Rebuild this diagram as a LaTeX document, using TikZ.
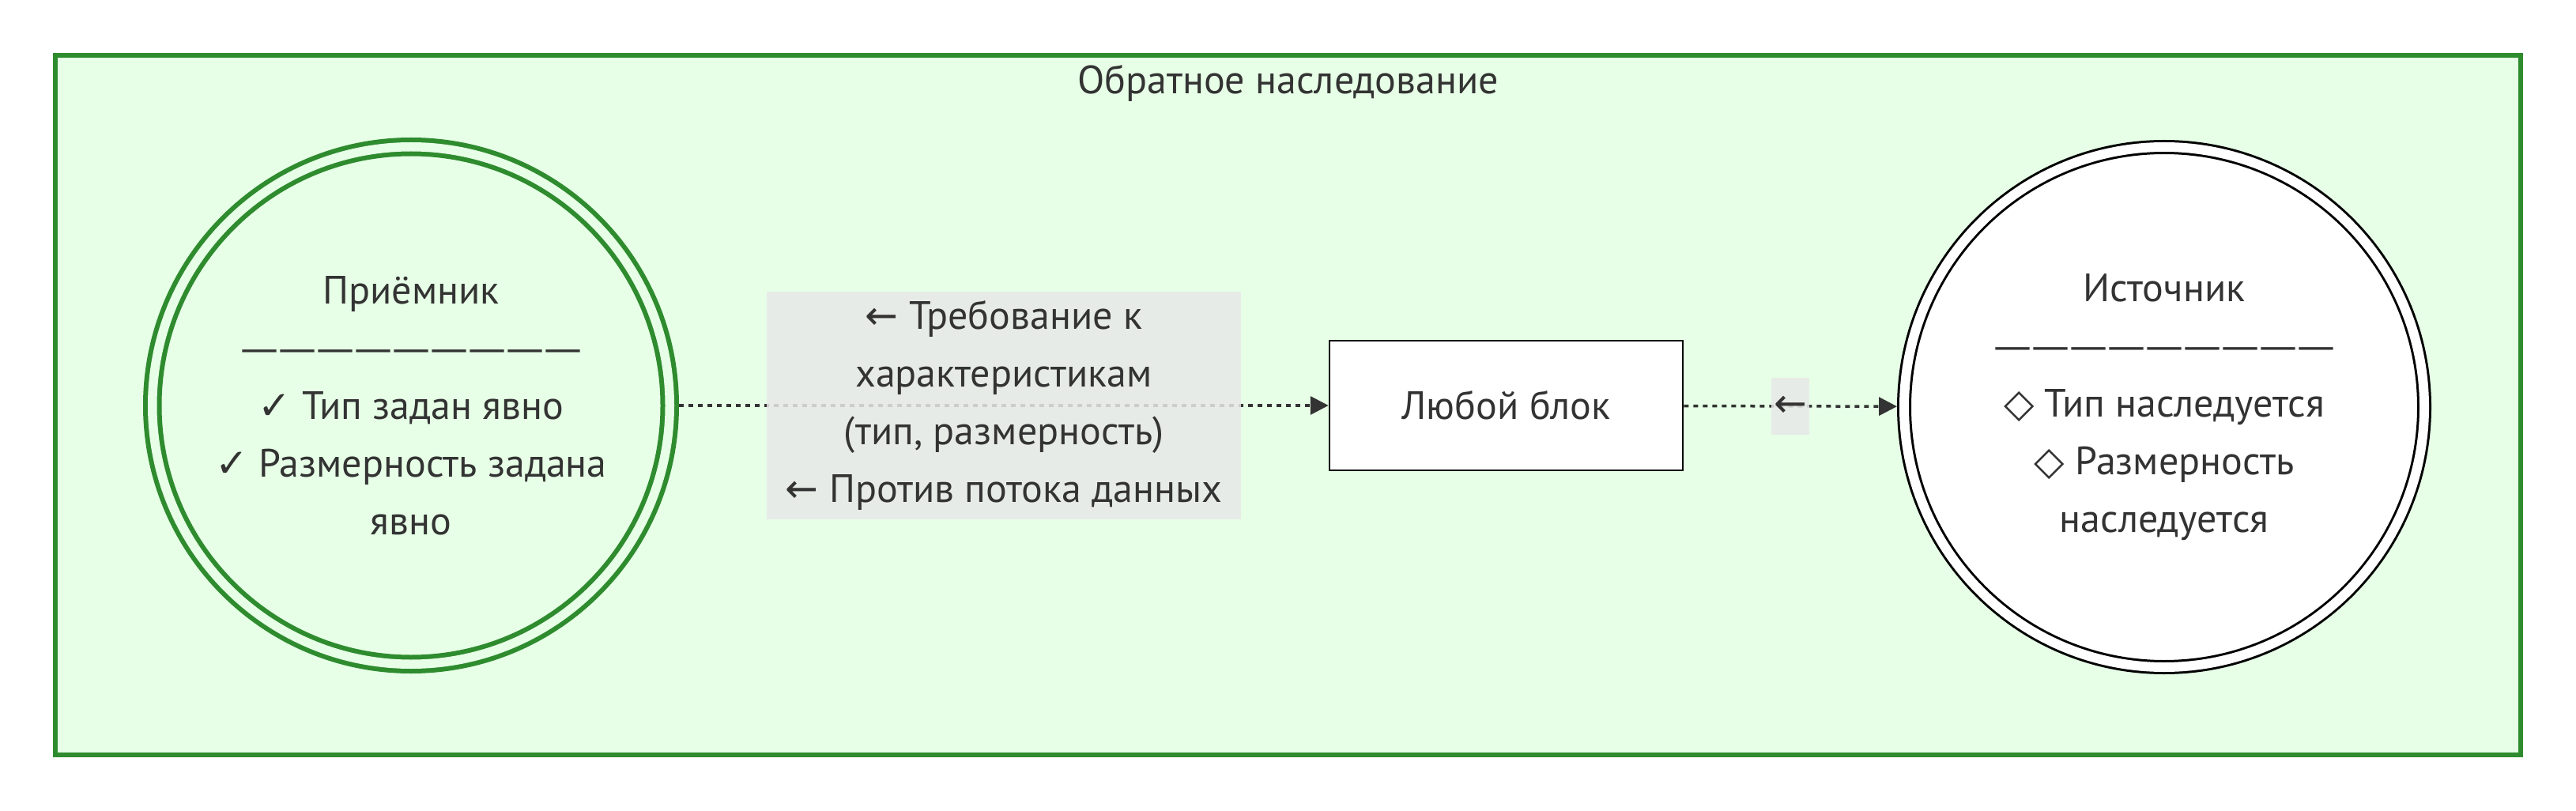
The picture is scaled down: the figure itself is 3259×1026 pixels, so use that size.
\documentclass[tikz,border=0pt]{standalone}
\usepackage{fontspec}
\setmainfont{PT Sans}
\newfontfamily\symf{DejaVu Sans}
\usetikzlibrary{arrows.meta}
\definecolor{frameGreen}{RGB}{46,139,46}
\definecolor{frameFill}{RGB}{230,255,230}
\definecolor{ink}{RGB}{51,51,51}
\definecolor{lblFill}{RGB}{232,232,232}
\newcommand{\sepline}{{\symf\fontsize{24pt}{36.5pt}\selectfont —————————}}
\newcommand{\chk}{{\symf ✓}}
\newcommand{\dmd}{{\symf ◇}}
\newcommand{\lar}{{\symf ←}}
\begin{document}
\begin{tikzpicture}
    [
    x=0.5pt, y=-0.5pt,
    every node/.style={text=ink,font=\fontsize{25pt}{36.5pt}\selectfont,inner sep=0pt},
    sink/.style={circle,draw=frameGreen,line width=3pt,double=frameFill,double distance=5.75pt,fill=frameFill,minimum size=327.25pt,outer sep=5.875pt,align=center},
    source/.style={circle,draw=black,line width=1.5pt,double=white,double distance=6pt,fill=white,minimum size=329pt,outer sep=4.5pt,align=center},
    block/.style={rectangle,draw=black,line width=1.25pt,fill=white,minimum width=223.5pt,minimum height=82pt},
    lbl/.style={rectangle,fill=lblFill,fill opacity=0.85,text opacity=1,align=center},
    flow/.style={draw=ink,line width=1.75pt,dash pattern=on 3pt off 3pt,-{Triangle[length=11.5pt,width=11.5pt]}},
    ]
    \useasboundingbox (0,0) rectangle (3259,1026);
    \draw[frameGreen,line width=3pt,fill=frameFill] (70,70) rectangle (3189,955);
    \node (ttl) at (1629.5,105) {Обратное наследование};
    \node[sink] (rcv) at (520,513) {Приёмник\\\sepline\\\chk\ Тип задан явно\\\chk\ Размерность задана\\явно};
    \node[block] (blk) at (1905.5,513) {Любой блок};
    \node[source] (src) at (2738,515) {Источник\\\sepline\\\dmd\ Тип наследуется\\\dmd\ Размерность\\наследуется};
    \draw[flow] (rcv) -- node[lbl,minimum width=300pt,minimum height=144pt] {\lar\ Требование к\\характеристикам\\(тип, размерность)\\\lar\ Против потока данных} (blk);
    \draw[flow] (blk) -- node[lbl,minimum width=24pt,minimum height=36pt] {\lar} (src);
  \end{tikzpicture}
\end{document}
